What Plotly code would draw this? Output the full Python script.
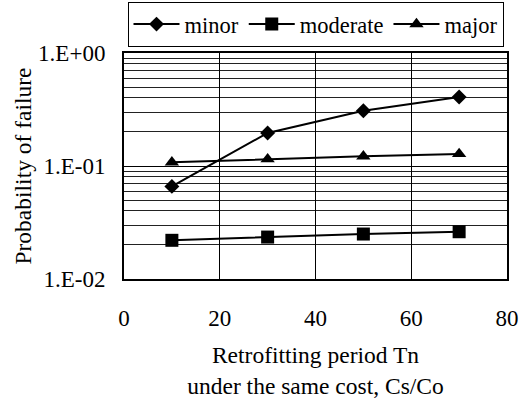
import plotly.graph_objects as go

periods = [10, 30, 50, 70]
minor = [0.066, 0.196, 0.308, 0.408]
moderate = [0.022, 0.0235, 0.025, 0.0262]
major = [0.1077, 0.115, 0.1217, 0.128]

y_tickvals = [0.01, 0.1, 1]
y_ticktext = ["1.E-02", "1.E-01", "1.E+00"]
y_minor = [k * 0.01 for k in range(2, 10)] + [k * 0.1 for k in range(2, 10)]
x_tickvals = [0, 20, 40, 60, 80]

FONT = "Liberation Serif"

fig = go.Figure()
series = [("minor", minor, "diamond", 11.5), ("moderate", moderate, "square", 13), ("major", major, "triangle-up", 12.5)]
for name, vals, sym, sz in series:
    fig.add_trace(go.Scatter(
        x=periods, y=vals, name=name, mode="lines+markers",
        line=dict(color="black", width=2),
        marker=dict(symbol=sym, size=sz, color="black"),
    ))

fig.update_layout(
    width=520, height=399,
    margin=dict(l=124, r=13, t=53, b=120, autoexpand=False),
    paper_bgcolor="white", plot_bgcolor="white",
    font=dict(family=FONT, size=22, color="black"),
    showlegend=True,
    legend=dict(orientation="h", x=0.5, xanchor="center", xref="paper",
                y=0.995, yanchor="top", yref="container",
                bordercolor="black", borderwidth=1, font=dict(family=FONT, size=22.5),
                itemwidth=46, tracegroupgap=0),
)
fig.update_xaxes(
    range=[0, 80], tickvals=x_tickvals, showgrid=True, gridcolor="black", gridwidth=1,
    showline=True, linecolor="black", linewidth=2, mirror=True,
    ticks="outside", ticklen=17, tickcolor="rgba(0,0,0,0)",
    tickfont=dict(family=FONT, size=23),
    zeroline=False, automargin=False,
    title=dict(text="Retrofitting period Tn<br>under the same cost, Cs/Co", standoff=21,
               font=dict(family=FONT, size=23.5)),
)
fig.update_yaxes(
    type="log", range=[-2, 0], tickvals=y_tickvals, ticktext=y_ticktext,
    showgrid=True, gridcolor="black", gridwidth=1,
    minor=dict(tickvals=y_minor, showgrid=True, gridcolor="#222", gridwidth=1, ticks=""),
    showline=True, linecolor="black", linewidth=2, mirror=True,
    ticks="outside", ticklen=12, tickcolor="rgba(0,0,0,0)", automargin=False,
    tickfont=dict(family=FONT, size=23),
    title=dict(text="Probability of failure", standoff=0, font=dict(family=FONT, size=23.5)),
)

fig.write_html("out.html")
